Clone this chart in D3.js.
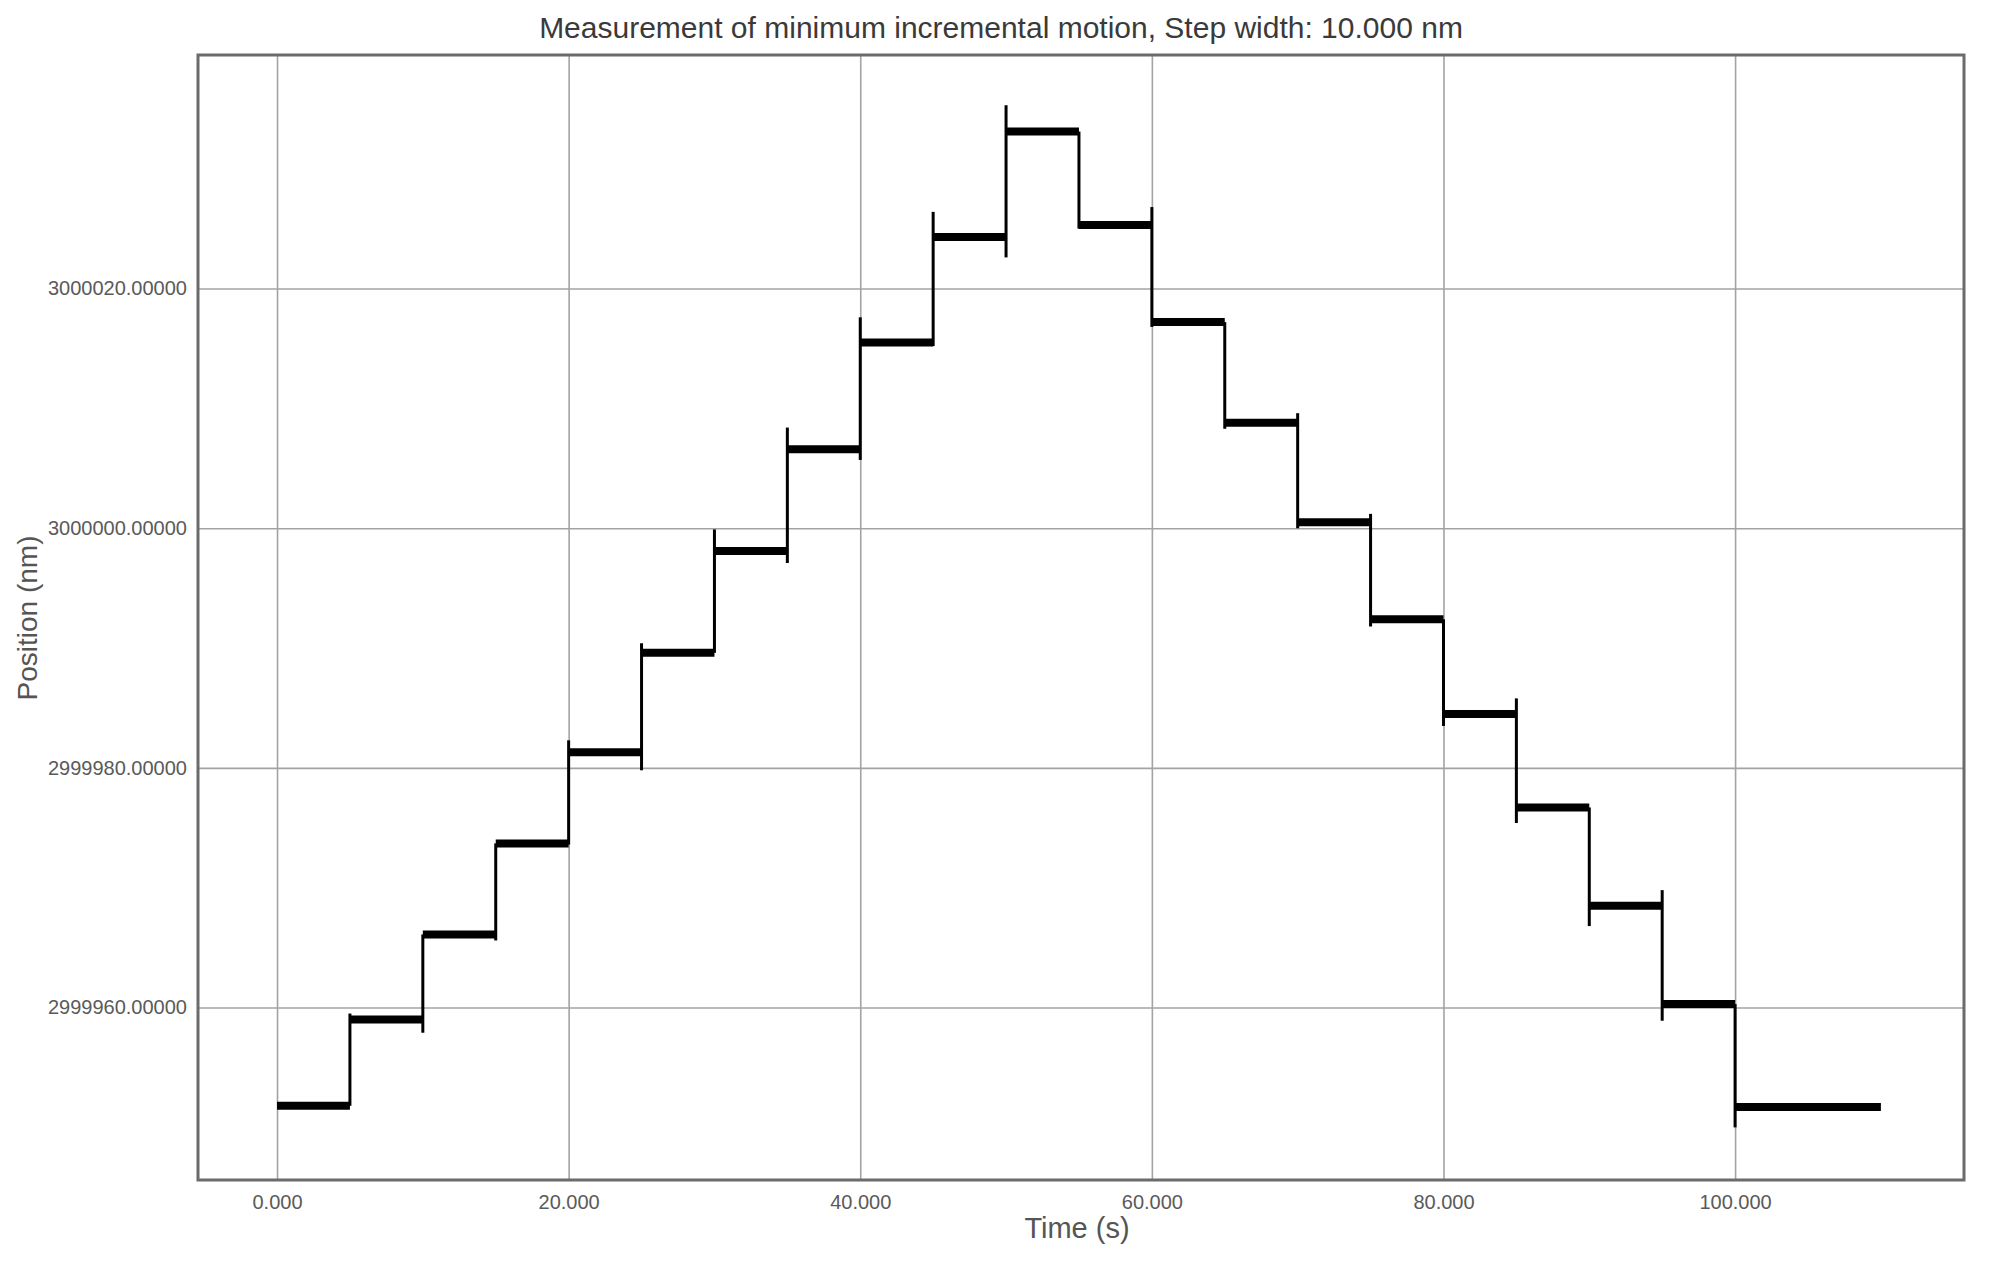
<!DOCTYPE html>
<html>
<head>
<meta charset="utf-8">
<script src="https://cdn.jsdelivr.net/npm/d3@7"></script>
<style>
  body { margin: 0; background: #fff; }
  text { font-family: "Liberation Sans", Arial, sans-serif; }
</style>
</head>
<body>
<div id="chart"></div>
<script>
'use strict';

// plateau levels (nm), one per 5 s step
var stepStart = [0, 5, 10, 15, 20, 25, 30, 35, 40, 45, 50, 55, 60, 65, 70, 75, 80, 85, 90, 95, 100];
var stepEnd   = [5, 10, 15, 20, 25, 30, 35, 40, 45, 50, 55, 60, 65, 70, 75, 80, 85, 90, 95, 100, 110];
var levels = [2999951.8, 2999959.0, 2999966.1, 2999973.7, 2999981.3, 2999989.6, 2999998.1,
              3000006.6, 3000015.5, 3000024.3, 3000033.1, 3000025.3, 3000017.2, 3000008.8,
              3000000.5, 2999992.4, 2999984.5, 2999976.7, 2999968.5, 2999960.3, 2999951.7];

// transitions: time and the lowest / highest value reached (spikes included)
var jumpTime = [5, 10, 15, 20, 25, 30, 35, 40, 45, 50, 55, 60, 65, 70, 75, 80, 85, 90, 95, 100];
var jumpLow  = [2999951.8, 2999957.9, 2999965.6, 2999973.6, 2999979.8, 2999989.6, 2999997.1,
                3000005.7, 3000015.2, 3000022.6, 3000025.0, 3000016.8, 3000008.3, 3000000.0,
                2999991.8, 2999983.5, 2999975.4, 2999966.8, 2999958.9, 2999950.0];
var jumpHigh = [2999959.5, 2999966.1, 2999973.7, 2999982.3, 2999990.4, 2999999.9, 3000008.4,
                3000017.6, 3000026.4, 3000035.3, 3000033.1, 3000026.8, 3000017.2, 3000009.6,
                3000001.2, 2999992.4, 2999985.8, 2999976.7, 2999969.8, 2999960.3];

var xTicks = [0, 20, 40, 60, 80, 100];
var yTicks = [2999960, 2999980, 3000000, 3000020];

var width = 2000, height = 1263;
var margin = {top: 55, right: 36, bottom: 83, left: 198};
var w = width - margin.left - margin.right;
var h = height - margin.top - margin.bottom;

var svg = d3.select('#chart')
  .append('svg')
    .attr('width', width)
    .attr('height', height);

svg.append('rect')
    .attr('width', width)
    .attr('height', height)
    .attr('fill', '#fff');

var g = svg.append('g')
    .attr('transform', 'translate(' + margin.left + ',' + margin.top + ')');

var x = d3.scaleLinear().domain([-5.42, 115.7]).range([0, w]);
var y = d3.scaleLinear().domain([2999945.61, 3000039.49]).range([h, 0]);

// grid + tick labels
var xAxis = g.append('g')
    .attr('transform', 'translate(0,' + h + ')')
    .call(d3.axisBottom(x).tickValues(xTicks).tickSize(-h).tickPadding(15).tickFormat(d3.format('.3f')));

var yAxis = g.append('g')
    .call(d3.axisLeft(y).tickValues(yTicks).tickSize(-w).tickPadding(11).tickFormat(d3.format('.5f')));

[xAxis, yAxis].forEach(function(a){
  a.select('.domain').remove();
  a.selectAll('.tick line').attr('stroke', '#a3a3a3').attr('stroke-width', 1.6);
  a.selectAll('.tick text')
    .attr('fill', '#5a5a5a')
    .style('font-size', '20px')
    .style('font-family', '"Liberation Sans", Arial, sans-serif');
});

// plateaus (thick to match the noise band)
g.append('g')
  .selectAll('line')
  .data(levels)
  .enter().append('line')
    .attr('x1', function(d, i){ return x(stepStart[i]); })
    .attr('x2', function(d, i){ return x(stepEnd[i]); })
    .attr('y1', function(d){ return y(d); })
    .attr('y2', function(d){ return y(d); })
    .attr('stroke', '#000')
    .attr('stroke-width', 8);

// vertical jumps with their spikes
g.append('g')
  .selectAll('line')
  .data(jumpTime)
  .enter().append('line')
    .attr('x1', function(d){ return x(d); })
    .attr('x2', function(d){ return x(d); })
    .attr('y1', function(d, i){ return y(jumpLow[i]); })
    .attr('y2', function(d, i){ return y(jumpHigh[i]); })
    .attr('stroke', '#000')
    .attr('stroke-width', 3);

// frame
g.append('rect')
    .attr('width', w)
    .attr('height', h)
    .attr('fill', 'none')
    .attr('stroke', '#6b6b6b')
    .attr('stroke-width', 3);

// titles
svg.append('text')
    .attr('x', 1001)
    .attr('y', 38)
    .attr('text-anchor', 'middle')
    .attr('fill', '#3a3a3a')
    .style('font-size', '30px')
    .text('Measurement of minimum incremental motion, Step width: 10.000 nm');

svg.append('text')
    .attr('x', 1077)
    .attr('y', 1238)
    .attr('text-anchor', 'middle')
    .attr('fill', '#555')
    .style('font-size', '29px')
    .text('Time (s)');

svg.append('text')
    .attr('transform', 'translate(37,618) rotate(-90)')
    .attr('text-anchor', 'middle')
    .attr('fill', '#555')
    .style('font-size', '28px')
    .text('Position (nm)');
</script>
</body>
</html>
